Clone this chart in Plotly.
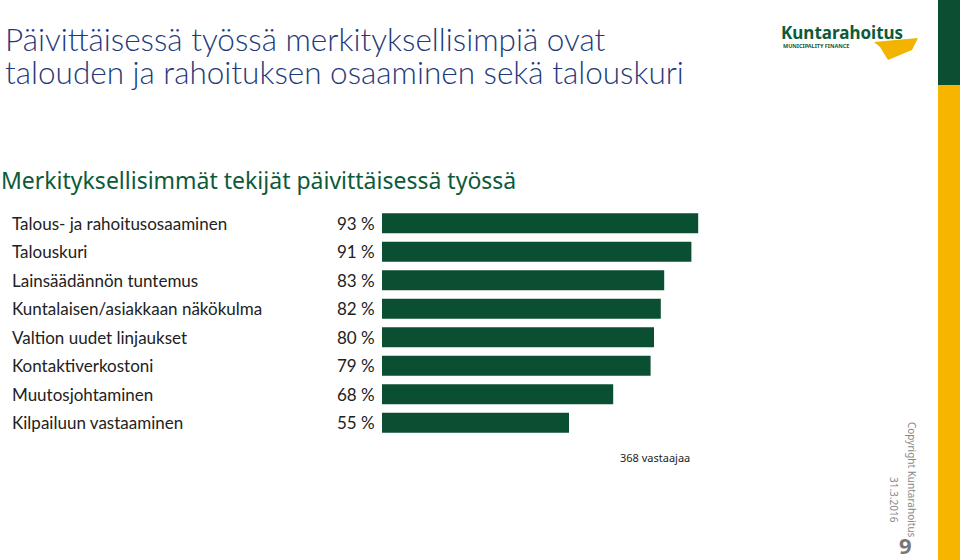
import plotly.graph_objects as go

categories = [
    "Talous- ja rahoitusosaaminen",
    "Talouskuri",
    "Lainsäädännön tuntemus",
    "Kuntalaisen/asiakkaan näkökulma",
    "Valtion uudet linjaukset",
    "Kontaktiverkostoni",
    "Muutosjohtaminen",
    "Kilpailuun vastaaminen",
]
values = [93, 91, 83, 82, 80, 79, 68, 55]

GREEN = "#0b4f33"
W, H = 960, 560

fig = go.Figure(go.Bar(
    x=values, y=categories, orientation="h",
    marker=dict(color=GREEN, line=dict(width=0)),
    hoverinfo="x+y",
))

ann = []
for c, v in zip(categories, values):
    ann.append(dict(x=10 / W, y=c, xref="paper", yref="y", text=c, showarrow=False,
                    xanchor="left", font=dict(family="Lato", size=17, color="#222")))
    ann.append(dict(x=377 / W, y=c, xref="paper", yref="y", text=f"{v} %", showarrow=False,
                    xanchor="right", font=dict(family="Lato", size=17, color="#222")))

def t(x, y, text, size, color, anchor="left", family="Lato", angle=0, weight="normal"):
    ann.append(dict(x=x / W, y=1 - y / H, xref="paper", yref="paper", text=text,
                    showarrow=False, xanchor=anchor, yanchor="middle", textangle=angle,
                    borderpad=0,
                    font=dict(family=family, size=size, color=color, weight=weight)))

t(4, 39, "Päivittäisessä työssä merkityksellisimpiä ovat", 31.5, "#1f3a7a", weight=300)
t(4, 72, "talouden ja rahoituksen osaaminen sekä talouskuri", 31.5, "#1f3a7a", weight=300)
t(0, 180, "Merkityksellisimmät tekijät päivittäisessä työssä", 23, "#0c5a3a", family="Noto Sans")
t(691, 457, "368 vastaajaa", 11, "#222", anchor="right", family="Noto Sans")
t(780, 32, "<b>Kuntarahoitus</b>", 17, "#0c5a3a", family="Noto Sans")
t(782, 46, "<b>MUNICIPALITY FINANCE</b>", 5.5, "#0c5a3a", family="Noto Sans")
t(912, 480, "Copyright Kuntarahoitus", 10, "#888", anchor="center", angle=90, family="Noto Sans")
t(894, 500, "31.3.2016", 10, "#888", anchor="center", angle=90, family="Noto Sans")
t(905, 545, "<b>9</b>", 22, "#777", anchor="center", family="Noto Sans")

shapes = [
    dict(type="rect", xref="paper", yref="paper", x0=938 / W, x1=1, y0=1 - 85 / H, y1=1,
         fillcolor="#0b4f33", line=dict(width=0)),
    dict(type="rect", xref="paper", yref="paper", x0=938 / W, x1=1, y0=0, y1=1 - 85 / H,
         fillcolor="#f7b500", line=dict(width=0)),
    dict(type="path", xref="paper", yref="paper",
         path=f"M {874/W} {1-42/H} L {918/W} {1-38/H} L {912/W} {1-50/H} L {888/W} {1-60/H} L {880/W} {1-47/H} Z",
         fillcolor="#f2b400", line=dict(width=0)),
]

fig.update_layout(
    width=W, height=H, margin=dict(l=0, r=0, t=0, b=0),
    paper_bgcolor="white", plot_bgcolor="white", showlegend=False,
    bargap=0.29,
    xaxis=dict(domain=[382 / W, 722 / W], range=[0, 100], visible=False, fixedrange=True),
    yaxis=dict(domain=[1 - 437 / H, 1 - 209 / H], autorange="reversed", visible=False,
               categoryorder="array", categoryarray=categories),
    annotations=ann, shapes=shapes,
)

fig.write_html("out.html", config={"displayModeBar": False},
               post_script="document.body.style.margin='0';")
